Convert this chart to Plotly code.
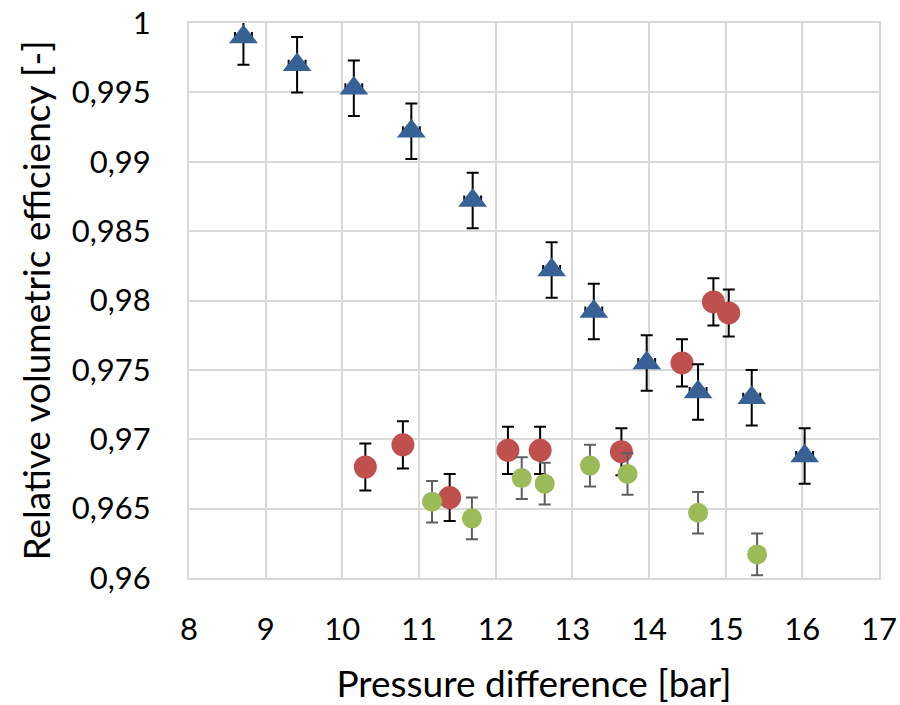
import plotly.graph_objects as go

# --- data ---
blue_x = [8.71, 9.41, 10.15, 10.90, 11.70, 12.73, 13.28, 13.97, 14.64, 15.34, 16.03]
blue_y = [0.9990, 0.9970, 0.9953, 0.9922, 0.9872, 0.9822, 0.9792, 0.9755, 0.9734, 0.9730, 0.9688]
blue_err_y = [0.002] * len(blue_x)
blue_err_x = [0.11] * len(blue_x)

red_x = [10.30, 10.79, 11.40, 12.16, 12.58, 13.64, 14.43, 14.84, 15.04]
red_y = [0.9680, 0.9696, 0.9658, 0.9692, 0.9692, 0.9691, 0.9755, 0.9799, 0.9791]
red_err_y = [0.0017] * len(red_x)

green_x = [11.17, 11.69, 12.34, 12.64, 13.23, 13.72, 14.64, 15.41]
green_y = [0.9655, 0.9643, 0.9672, 0.9668, 0.9681, 0.9675, 0.9647, 0.9617]
green_err_y = [0.0015] * len(green_x)

x_ticks = [8, 9, 10, 11, 12, 13, 14, 15, 16, 17]
x_ticktext = ["8", "9", "10", "11", "12", "13", "14", "15", "16", "17"]
y_ticks = [0.96, 0.965, 0.97, 0.975, 0.98, 0.985, 0.99, 0.995, 1.0]
y_ticktext = ["0,96", "0,965", "0,97", "0,975", "0,98", "0,985", "0,99", "0,995", "1"]

FONT = "Lato"
GRID = "#D9D9D9"

fig = go.Figure()

fig.add_trace(go.Scatter(
    x=red_x, y=red_y, mode="markers",
    marker=dict(symbol="circle", size=23, color="#C0504D", line=dict(width=0)),
    error_y=dict(type="data", array=red_err_y, color="#000000", thickness=2, width=6),
    showlegend=False,
))
fig.add_trace(go.Scatter(
    x=green_x, y=green_y, mode="markers",
    marker=dict(symbol="circle", size=20, color="#9BBB59", line=dict(width=0)),
    error_y=dict(type="data", array=green_err_y, color="#5F5F5F", thickness=2, width=6),
    showlegend=False,
))
fig.add_trace(go.Scatter(
    x=blue_x, y=blue_y, mode="markers",
    marker=dict(symbol="triangle-up", size=25, color="#386295", line=dict(width=0)),
    error_y=dict(type="data", array=blue_err_y, color="#000000", thickness=2, width=6),
    error_x=dict(type="data", array=blue_err_x, color="#000000", thickness=2, width=5),
    showlegend=False,
))

fig.update_layout(
    width=900, height=705,
    margin=dict(l=189, r=21, t=23, b=127),
    paper_bgcolor="white", plot_bgcolor="white",
    font=dict(family=FONT, size=31, color="#000000"),
)
fig.update_xaxes(
    range=[8, 17], tickvals=x_ticks, ticktext=x_ticktext,
    showgrid=True, gridcolor=GRID, gridwidth=2,
    showline=True, linecolor=GRID, linewidth=2, mirror=True,
    zeroline=False, ticks="", ticklabelstandoff=23, automargin=False,
    title=dict(text="Pressure difference [bar]", standoff=26),
)
fig.update_yaxes(
    range=[0.96, 1.0], tickvals=y_ticks, ticktext=y_ticktext,
    showgrid=True, gridcolor=GRID, gridwidth=2,
    showline=True, linecolor=GRID, linewidth=2, mirror=True,
    zeroline=False, ticks="", ticklabelstandoff=30, automargin=False,
    title=dict(text="Relative volumetric efficiency [-]", standoff=10),
)

fig.write_html("out.html")
